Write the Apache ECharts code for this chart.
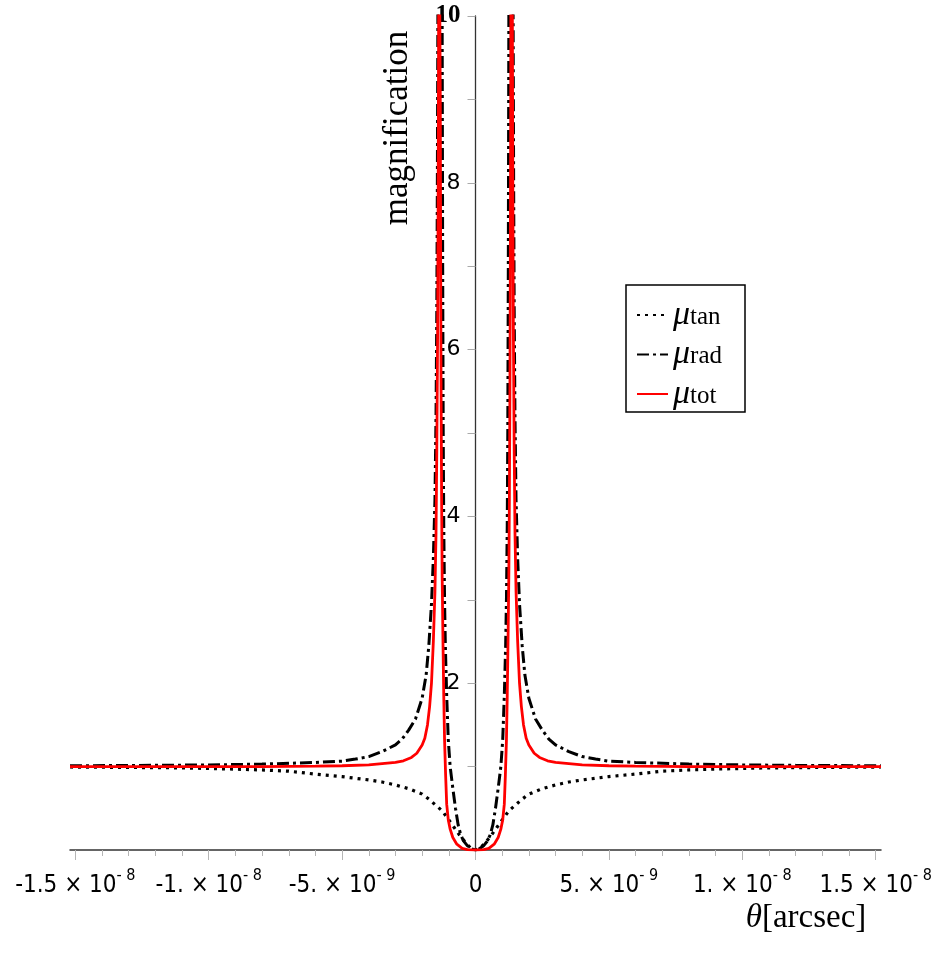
<!DOCTYPE html>
<html>
<head>
<meta charset="utf-8">
<script src="https://cdn.jsdelivr.net/npm/echarts@6/dist/echarts.min.js"></script>
<style>
  html, body { margin: 0; padding: 0; background: #fff; }
  #chart { width: 945px; height: 955px; }
</style>
</head>
<body>
<div id="chart"></div>
<script>
  // theta in units of 1e-9 arcsec
  var tanTheta = [-15.2, -13, -11, -9, -8, -7, -6, -5, -4, -3.5, -3, -2.5, -2, -1.75, -1.5, -1.25, -1, -0.8, -0.6, -0.4, -0.2,
    0,
    0.2, 0.4, 0.6, 0.8, 1, 1.25, 1.5, 1.75, 2, 2.5, 3, 3.5, 4, 5, 6, 7, 8, 9, 11, 13, 15.2]
  var tanMu = [0.995, 0.99, 0.985, 0.97, 0.96, 0.945, 0.91, 0.88, 0.84, 0.815, 0.78, 0.735, 0.67, 0.61, 0.54, 0.47, 0.36, 0.27, 0.18, 0.10, 0.03,
    0,
    0.03, 0.10, 0.18, 0.27, 0.36, 0.47, 0.54, 0.61, 0.67, 0.735, 0.78, 0.815, 0.84, 0.88, 0.91, 0.945, 0.96, 0.97, 0.985, 0.99, 0.995]

  var radTheta = [-15.2, -12, -10, -8, -6, -5, -4.5, -4, -3.5, -3, -2.75, -2.5, -2.25, -2, -1.85, -1.75, -1.65, -1.58, -1.52, -1.48, -1.45, -1.43, -1.41, -1.39,
    -1.26, -1.25, -1.23, -1.21, -1.19, -1.16, -1.13, -1.08, -1.02, -0.95, -0.85, -0.75, -0.65, -0.55, -0.45, -0.3, -0.15, 0,
    0.15, 0.3, 0.45, 0.55, 0.65, 0.75, 0.85, 0.95, 1.02, 1.08, 1.13, 1.16, 1.19, 1.21, 1.23, 1.25, 1.26,
    1.39, 1.41, 1.43, 1.45, 1.48, 1.52, 1.58, 1.65, 1.75, 1.85, 2, 2.25, 2.5, 2.75, 3, 3.5, 4, 4.5, 5, 6, 8, 10, 12, 15.2]
  var radMu = [1.01, 1.015, 1.02, 1.03, 1.05, 1.065, 1.09, 1.12, 1.18, 1.26, 1.33, 1.44, 1.57, 1.82, 2.1, 2.45, 2.95, 3.5, 4.2, 5.2, 6.5, 8.0, 10, 13,
    13, 10, 7, 5, 3.9, 3.0, 2.45, 1.85, 1.32, 1.0, 0.74, 0.5, 0.3, 0.18, 0.11, 0.05, 0.015, 0,
    0.015, 0.05, 0.11, 0.18, 0.3, 0.5, 0.74, 1.0, 1.32, 1.85, 2.45, 3.0, 3.9, 5, 7, 10, 13,
    13, 10, 8.0, 6.5, 5.2, 4.2, 3.5, 2.95, 2.45, 2.1, 1.82, 1.57, 1.44, 1.33, 1.26, 1.18, 1.12, 1.09, 1.065, 1.05, 1.03, 1.02, 1.015, 1.01]

  var totTheta = [-15.2, -10, -8, -6, -5, -4, -3.5, -3, -2.7, -2.4, -2.2, -2.0, -1.9, -1.8, -1.72, -1.65, -1.58, -1.52, -1.48, -1.45, -1.42, -1.40, -1.38, -1.37,
    -1.33, -1.32, -1.305, -1.29, -1.27, -1.25, -1.22, -1.19, -1.16, -1.12, -1.08, -1.02, -0.95, -0.85, -0.7, -0.5, -0.3, 0,
    0.3, 0.5, 0.7, 0.85, 0.95, 1.02, 1.08, 1.12, 1.16, 1.19, 1.22, 1.25, 1.27, 1.29, 1.305, 1.32, 1.33,
    1.37, 1.38, 1.40, 1.42, 1.45, 1.48, 1.52, 1.58, 1.65, 1.72, 1.8, 1.9, 2.0, 2.2, 2.4, 2.7, 3, 3.5, 4, 5, 6, 8, 10, 15.2]
  var totMu = [1.0, 1.0, 1.0, 1.005, 1.01, 1.02, 1.035, 1.05, 1.07, 1.11, 1.16, 1.26, 1.34, 1.5, 1.72, 2.0, 2.5, 3.1, 3.8, 4.8, 6.2, 7.8, 10.2, 12,
    12, 9, 7, 5.5, 4.2, 3.3, 2.52, 1.85, 1.32, 0.9, 0.55, 0.36, 0.25, 0.15, 0.07, 0.02, 0.005, 0,
    0.005, 0.02, 0.07, 0.15, 0.25, 0.36, 0.55, 0.9, 1.32, 1.85, 2.52, 3.3, 4.2, 5.5, 7, 9, 12,
    12, 10.2, 7.8, 6.2, 4.8, 3.8, 3.1, 2.5, 2.0, 1.72, 1.5, 1.34, 1.26, 1.16, 1.11, 1.07, 1.05, 1.035, 1.02, 1.01, 1.005, 1.0, 1.0, 1.0]

  var xTickValues = [-15, -10, -5, 0, 5, 10, 15]
  var xTickLabels = ['{b|-1.5 × 10}{e|- 8}', '{b|-1. × 10}{e|- 8}', '{b|-5. × 10}{e|- 9}', '{b|0}',
    '{b|5. × 10}{e|- 9}', '{b|1. × 10}{e|- 8}', '{b|1.5 × 10}{e|- 8}']
  var xMinorTicks = [-14, -13, -12, -11, -9, -8, -7, -6, -4, -3, -2, -1, 1, 2, 3, 4, 6, 7, 8, 9, 11, 12, 13, 14]
  var legendNames = ['tan', 'rad', 'tot']

  function pairs(xs, ys) {
    return xs.map(function (x, i) { return [x, ys[i]] })
  }

  var labelFont = '"DejaVu Sans Condensed", "Liberation Sans Narrow", sans-serif'
  var serif = '"Liberation Serif", serif'

  var chart = echarts.init(document.getElementById('chart'))
  chart.setOption({
    animation: false,
    backgroundColor: '#fff',
    grid: { left: 70, right: 64, top: 16, bottom: 105, outerBoundsMode: 'none' },
    xAxis: [
      {
        type: 'value', min: -15.2, max: 15.2,
        axisLine: { onZero: false, lineStyle: { color: '#333', width: 1.5 } },
        axisTick: { customValues: xTickValues, length: 10, lineStyle: { color: '#b5b5b5' } },
        axisLabel: {
          customValues: xTickValues, margin: 18, color: '#000',
          formatter: function (v) { return xTickLabels[xTickValues.indexOf(v)] || '' },
          rich: {
            b: { fontFamily: labelFont, fontSize: 24, lineHeight: 36, color: '#000' },
            e: { fontFamily: labelFont, fontSize: 16, lineHeight: 14, verticalAlign: 'top', color: '#000' }
          }
        },
        splitLine: { show: false }
      },
      {
        type: 'value', min: -15.2, max: 15.2, position: 'bottom',
        axisLine: { show: false, onZero: false },
        axisTick: { customValues: xMinorTicks, length: 6, lineStyle: { color: '#b5b5b5' } },
        axisLabel: { show: false },
        splitLine: { show: false }
      }
    ],
    yAxis: {
      type: 'value', min: 0, max: 10, interval: 1, position: 'left', offset: -405.5,
      axisLine: { show: true, onZero: false, lineStyle: { color: '#333', width: 1.3 } },
      axisTick: { length: 8, lineStyle: { color: '#aaa' } },
      axisLabel: {
        margin: 15, color: '#000', fontFamily: '"DejaVu Sans", sans-serif', fontSize: 22,
        formatter: function (v) {
          if (v === 10) return '{s|10}'
          return (v > 0 && v % 2 === 0) ? String(v) : ''
        },
        rich: { s: { fontFamily: serif, fontSize: 25, fontWeight: 'bold', color: '#000' } }
      },
      splitLine: { show: false }
    },
    legend: {
      data: legendNames, orient: 'vertical', left: 636, top: 298, padding: 0,
      itemWidth: 31, itemHeight: 14, itemGap: 5.5,
      itemStyle: { opacity: 0 },
      formatter: function (n) { return '{mu|μ}{sub|' + n + '}' },
      textStyle: {
        rich: {
          mu: { fontFamily: serif, fontStyle: 'italic', fontSize: 34, lineHeight: 29, color: '#000' },
          sub: { fontFamily: serif, fontSize: 25, lineHeight: 17, verticalAlign: 'bottom', color: '#000' }
        }
      }
    },
    graphic: [
      { type: 'rect', shape: { x: 626, y: 285, width: 119, height: 127 }, style: { fill: 'none', stroke: '#000', lineWidth: 1.5 } },
      {
        type: 'text', x: 398, y: 128, rotation: Math.PI / 2,
        style: { text: 'magnification', fontFamily: serif, fontSize: 35, fill: '#000', align: 'center', verticalAlign: 'middle' }
      },
      {
        type: 'text', x: 806, y: 918,
        style: {
          text: '{t|θ}{r|[arcsec]}', align: 'center', verticalAlign: 'middle', fill: '#000',
          rich: {
            t: { fontFamily: serif, fontStyle: 'italic', fontSize: 33, fill: '#000' },
            r: { fontFamily: serif, fontSize: 33, fill: '#000' }
          }
        }
      }
    ],
    series: [
      {
        name: 'tan', type: 'line', data: pairs(tanTheta, tanMu), symbol: 'none',
        itemStyle: { color: '#000' }, lineStyle: { color: '#000', width: 3.2, type: [3, 5] }
      },
      {
        name: 'rad', type: 'line', data: pairs(radTheta, radMu), symbol: 'none',
        itemStyle: { color: '#000' }, lineStyle: { color: '#000', width: 3, type: [12, 4, 3, 4] }
      },
      {
        name: 'tot', type: 'line', data: pairs(totTheta, totMu), symbol: 'none',
        itemStyle: { color: '#ff0000' }, lineStyle: { color: '#ff0000', width: 2.8 }
      }
    ]
  })
</script>
</body>
</html>
